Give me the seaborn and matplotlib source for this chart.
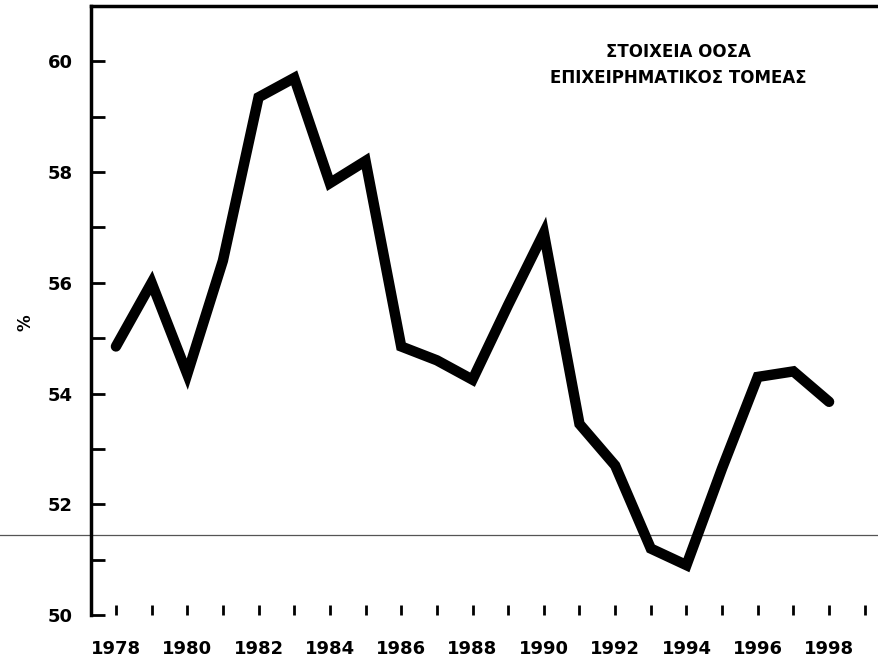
import numpy as np
import pandas as pd
import matplotlib
matplotlib.use("Agg")
import matplotlib.pyplot as plt
import seaborn as sns

# 데이터
years = list(range(1978, 1999))
share = [54.85, 56.0, 54.35, 56.4, 59.35, 59.7, 57.8, 58.2, 54.85, 54.6, 54.25,
         55.6, 56.9, 53.45, 52.7, 51.2, 50.9, 52.65, 54.3, 54.4, 53.85]
title_lines = ["ΣΤΟΙΧΕΙΑ ΟΟΣΑ", "ΕΠΙΧΕΙΡΗΜΑΤΙΚΟΣ ΤΟΜΕΑΣ"]
ytick_vals = [50, 52, 54, 56, 58, 60]
xtick_vals = list(range(1978, 1999, 2))
ref_level = 51.45

df = pd.DataFrame({"year": years, "share": share})

sns.set_style("white")
plt.rcParams["font.family"] = ["DejaVu Sans"]

fig = plt.figure(figsize=(8.79, 6.61), dpi=100)
ax = fig.add_axes([0.1035, 0.0696, 0.8965, 0.9214])

sns.lineplot(data=df, x="year", y="share", color="black", linewidth=7.5,
             solid_joinstyle="miter", ax=ax)

# 스캔에 보이는 가는 가로선
ax.axhline(ref_level, xmin=-0.12, xmax=1.0, color="#555555", linewidth=0.9,
           clip_on=False, zorder=1)

ax.set_xlim(1977.3, 1999.4)
ax.set_ylim(50, 61)

ax.set_yticks(ytick_vals)
ax.set_yticks([51, 53, 55, 57, 59], minor=True)
ax.set_xticks(xtick_vals)
ax.set_xticks(list(range(1979, 2000, 2)), minor=True)

ax.tick_params(axis="y", which="both", direction="in", length=10, width=2,
               pad=13, labelsize=13, left=True, color="black", labelcolor="black")
ax.tick_params(axis="x", which="both", direction="in", length=7, width=2,
               pad=18, labelsize=13, bottom=True, color="black", labelcolor="black")
for lab in ax.get_xticklabels() + ax.get_yticklabels():
    lab.set_fontweight("bold")

ax.spines["right"].set_visible(False)
ax.spines["bottom"].set_visible(False)
ax.spines["left"].set_linewidth(2.5)
ax.spines["top"].set_linewidth(2.5)
for s in ["left", "top"]:
    ax.spines[s].set_color("black")

ax.set_xlabel("")
ax.set_ylabel("%", fontsize=12, fontweight="bold", color="black")
ax.yaxis.set_label_coords(-0.072, 0.48)

ax.text(0.745, 0.925, title_lines[0], transform=ax.transAxes, ha="center",
        va="center", fontsize=12, fontweight="bold", color="black")
ax.text(0.745, 0.882, title_lines[1], transform=ax.transAxes, ha="center",
        va="center", fontsize=12, fontweight="bold", color="black")

fig.savefig("out.png", dpi=100)
